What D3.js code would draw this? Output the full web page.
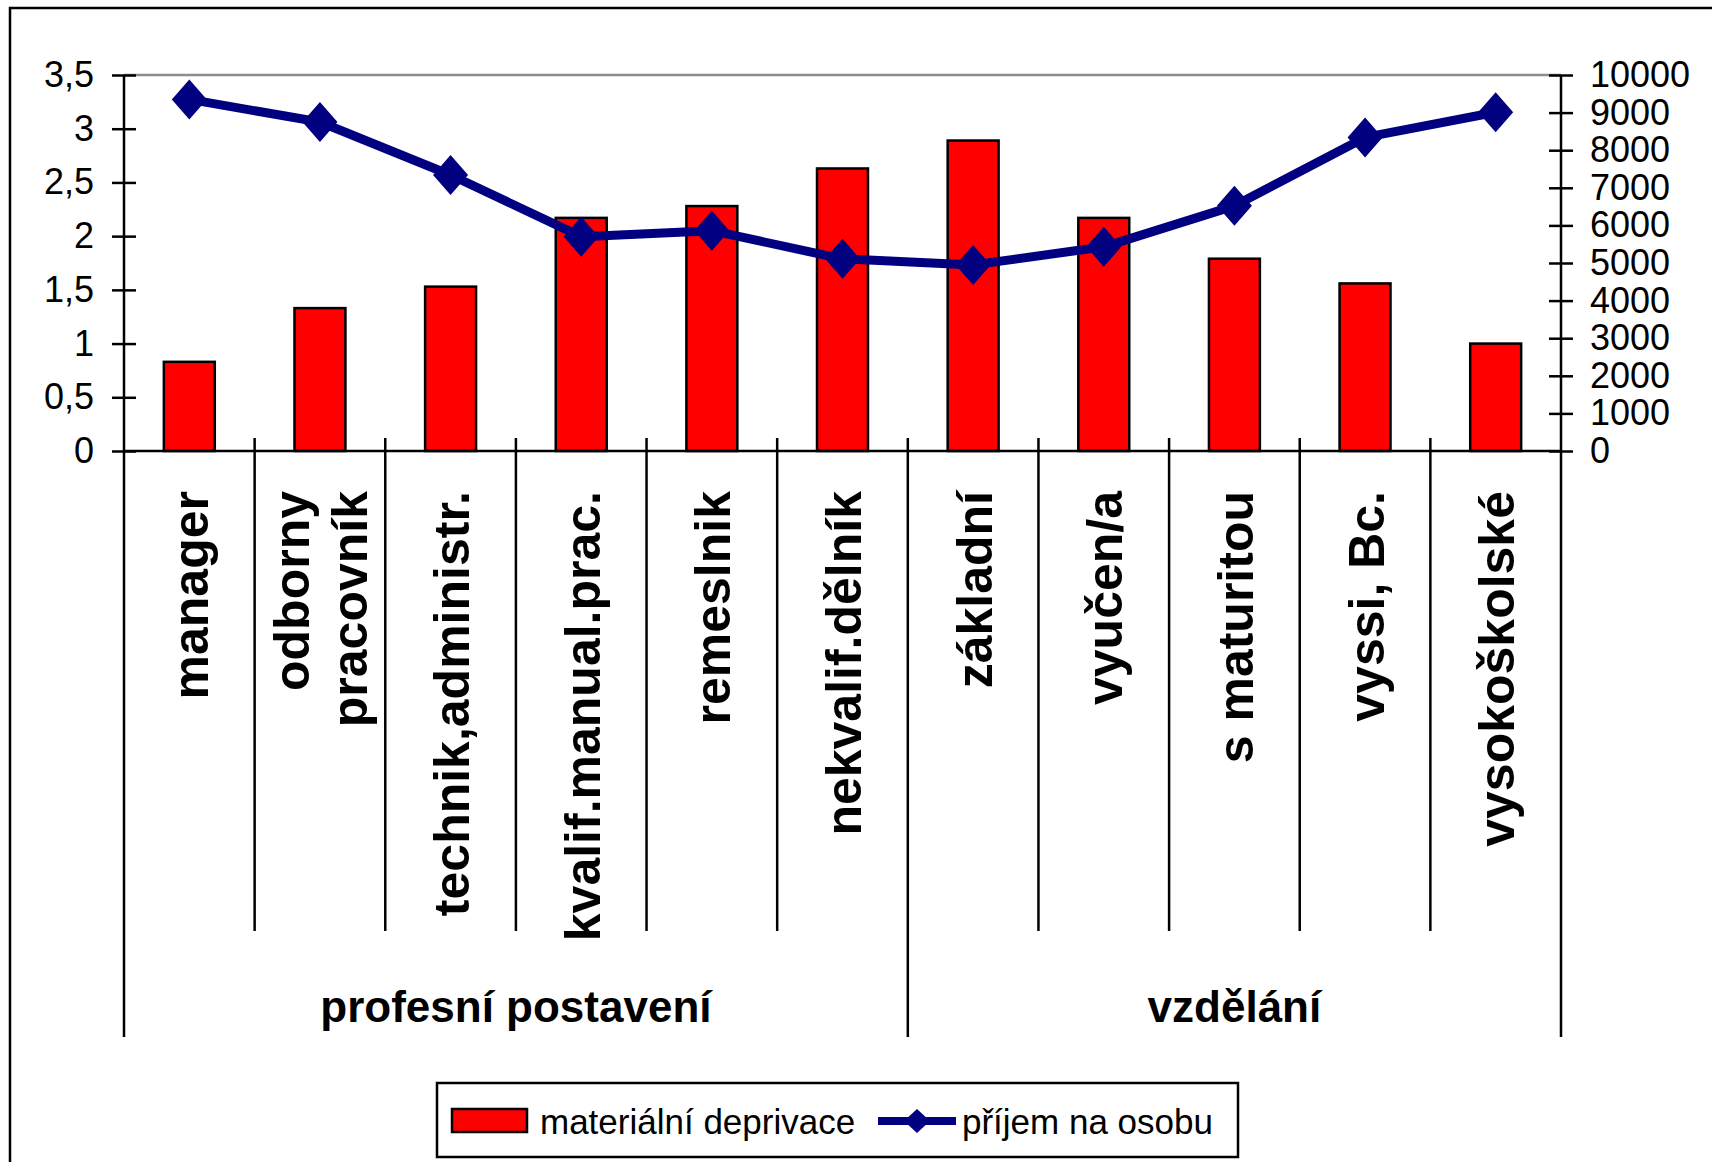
<!DOCTYPE html>
<html><head><meta charset="utf-8">
<script src="https://cdn.jsdelivr.net/npm/d3@7"></script>
<style>body{margin:0;background:#fff}svg{display:block}text{font-family:"Liberation Sans",Arial,sans-serif;fill:#000}</style>
</head><body><svg id="c" width="1712" height="1162"></svg>
<script>
const categories = ["manager","odborny\npracovník","technik,administr.","kvalif.manual.prac.","remeslnik","nekvalif.dělník","základní","vyučen/a","s maturitou","vyssi, Bc.","vysokoškolské"];
const groupNames = ["profesní postavení","vzdělání"];
const groupSizes = [6,5];
const deprivace = [0.83,1.33,1.53,2.17,2.28,2.63,2.89,2.17,1.79,1.56,1.00];
const prijem = [9350,8750,7340,5700,5860,5110,4950,5430,6520,8340,9010];
const leftTicks = [0,0.5,1,1.5,2,2.5,3,3.5];
const rightTicks = [0,1000,2000,3000,4000,5000,6000,7000,8000,9000,10000];
const seriesNames = ["materiální deprivace","příjem na osobu"];

const svg = d3.select("#c");
const L=124,R=1561,T=75,B=451;
const x = d3.scaleBand().domain(d3.range(categories.length)).range([L,R]);
const bw = x.bandwidth();
const yL = d3.scaleLinear().domain([0,3.5]).range([B,T]);
const yR = d3.scaleLinear().domain([0,10000]).range([B,T]);
const navy="#000080";

// outer frame
svg.append("path").attr("d","M10,1162V8H1712").attr("fill","none").attr("stroke","#000").attr("stroke-width",2.5);

// plot top border (gray)
svg.append("line").attr("x1",L).attr("x2",R).attr("y1",T).attr("y2",T).attr("stroke","#8c8c8c").attr("stroke-width",2.5);

// bars
svg.append("g").selectAll("rect").data(deprivace).join("rect")
  .attr("x",(d,i)=>x(i)+bw*0.305).attr("width",bw*0.39)
  .attr("y",d=>yL(d)).attr("height",d=>B-yL(d))
  .attr("fill","#ff0000").attr("stroke","#000").attr("stroke-width",2.5);

// left axis
const gl = svg.append("g").attr("transform",`translate(${L},0)`)
  .call(d3.axisLeft(yL).tickValues(leftTicks).tickSize(12).tickPadding(18).tickFormat(d=>String(d).replace(".",",")));
gl.select(".domain").remove();
gl.selectAll(".tick line").attr("x1",12).attr("stroke","#000").attr("stroke-width",2.5);
gl.selectAll(".tick text").attr("font-size",36).attr("font-family","Liberation Sans, Arial, sans-serif");

// right axis
const gr = svg.append("g").attr("transform",`translate(${R},0)`)
  .call(d3.axisRight(yR).tickValues(rightTicks).tickSize(12).tickPadding(17).tickFormat(d=>String(d)));
gr.select(".domain").remove();
gr.selectAll(".tick line").attr("x1",-12).attr("stroke","#000").attr("stroke-width",2.5);
gr.selectAll(".tick text").attr("font-size",36).attr("font-family","Liberation Sans, Arial, sans-serif");

// axis lines
const axG = svg.append("g").attr("stroke","#000").attr("stroke-width",2.5);
axG.append("line").attr("x1",L).attr("x2",R).attr("y1",B).attr("y2",B);
const groupBounds = [0];
groupSizes.forEach(s=>groupBounds.push(groupBounds[groupBounds.length-1]+s));
for(let i=0;i<=categories.length;i++){
  const xx = L + i*bw;
  const isGroup = groupBounds.includes(i);
  const top = (i===0||i===categories.length)? T : B-13;
  axG.append("line").attr("x1",xx).attr("x2",xx).attr("y1",top).attr("y2",isGroup?1037:931);
}

// category labels (rotated)
const lab = svg.append("g");
categories.forEach((c,i)=>{
  const lines = c.split("\n");
  const cx = x(i)+bw/2;
  const sp = 58;
  lines.forEach((ln,j)=>{
    const lx = cx + (j-(lines.length-1)/2)*sp + 1;
    lab.append("text").attr("transform",`translate(${lx},491) rotate(-90)`)
      .attr("text-anchor","end").attr("dy","0.35em")
      .attr("font-size",50).attr("font-weight","bold").text(ln);
  });
});

// group labels
let start=0;
groupNames.forEach((g,k)=>{
  const x0=L+start*bw, x1=L+(start+groupSizes[k])*bw;
  svg.append("text").attr("x",(x0+x1)/2).attr("y",1022).attr("text-anchor","middle")
    .attr("font-size",44).attr("font-weight","bold").text(g);
  start+=groupSizes[k];
});

// line series
const line = d3.line().x((d,i)=>x(i)+bw/2).y(d=>yR(d));
svg.append("path").datum(prijem).attr("d",line).attr("fill","none")
  .attr("stroke",navy).attr("stroke-width",9).attr("stroke-linejoin","round");
const dia=(cx,cy,hw,hh)=>`M${cx},${cy-hh}L${cx+hw},${cy}L${cx},${cy+hh}L${cx-hw},${cy}Z`;
svg.append("g").selectAll("path").data(prijem).join("path")
  .attr("d",(d,i)=>dia(x(i)+bw/2,yR(d),17.5,20)).attr("fill",navy);

// legend
const lg = svg.append("g");
lg.append("rect").attr("x",437).attr("y",1083).attr("width",801).attr("height",74)
  .attr("fill","#fff").attr("stroke","#000").attr("stroke-width",2.5);
lg.append("rect").attr("x",452).attr("y",1109).attr("width",75).attr("height",23)
  .attr("fill","#ff0000").attr("stroke","#000").attr("stroke-width",2.5);
lg.append("text").attr("x",540).attr("y",1134).attr("font-size",35).text(seriesNames[0]);
lg.append("line").attr("x1",878).attr("x2",956).attr("y1",1121).attr("y2",1121).attr("stroke",navy).attr("stroke-width",8);
lg.append("path").attr("d",dia(917,1121,13,12)).attr("fill",navy);
lg.append("text").attr("x",962).attr("y",1134).attr("font-size",35).text(seriesNames[1]);
</script></body></html>
